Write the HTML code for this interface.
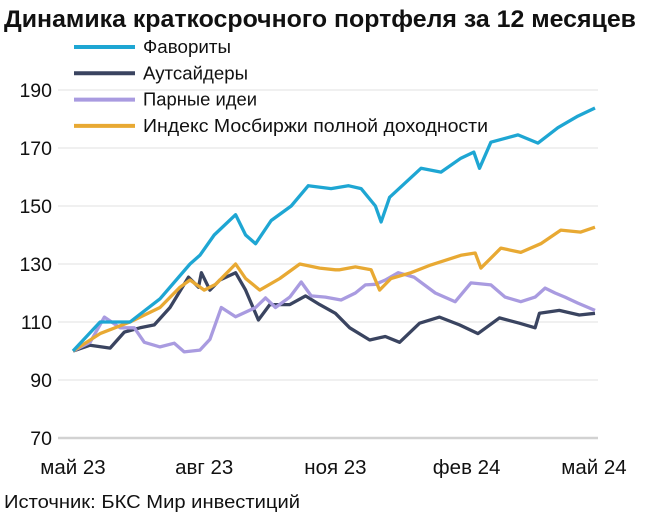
<!DOCTYPE html>
<html><head><meta charset="utf-8">
<style>
html,body{margin:0;padding:0;background:#fff;}
body{width:648px;height:522px;overflow:hidden;font-family:"Liberation Sans",sans-serif;}
svg text{font-family:"Liberation Sans",sans-serif;}
</style></head>
<body>
<svg id="chart" width="648" height="522" viewBox="0 0 648 522" xmlns="http://www.w3.org/2000/svg">
<text x="4" y="27" font-size="24.5" font-weight="bold" fill="#111" textLength="632" lengthAdjust="spacingAndGlyphs">Динамика краткосрочного портфеля за 12 месяцев</text>
<g id="grid"></g>
<g id="series"></g>
<g id="legend"></g>
<text x="4" y="508" font-size="18" fill="#111" textLength="296" lengthAdjust="spacingAndGlyphs">Источник: БКС Мир инвестиций</text>
</svg>
<script>
const yTicks = [70, 90, 110, 130, 150, 170, 190];
const xTickLabels = ["май 23", "авг 23", "ноя 23", "фев 24", "май 24"];
const xTickDays = [0, 92, 184, 276, 366];
const seriesNames = ["Фавориты", "Аутсайдеры", "Парные идеи", "Индекс Мосбиржи полной доходности"];

const favDays = [0,19,40,61,82,89,99,114,121,128,139,153,165,181,193,202,212,216,222,244,258,272,281,285,293,312,326,340,354,366];
const favVals = [100,110,110,118,130,133,140,147,140,137,145,150,157,156,157,156,150,144.5,153,163,161.7,166.5,168.6,163,172,174.5,171.7,177,181,183.8];

const outDays = [0,12,26,36,47,57,68,81,88,90,96,103,114,121,130,138,152,163,173,184,194,208,219,229,243,257,271,284,299,313,324,327,341,355,366];
const outVals = [100,102,101,106.5,108,109,115,125.5,122,127,121,124.5,127,121,110.7,116,116,119,116,113,108,103.8,105,103,109.6,111.7,109,106,111.4,109.6,108,113,114,112.4,113];

const pairDays = [0,12,22,33,43,50,61,71,78,89,96,104,114,128,135,142,152,160,167,177,188,198,205,212,219,228,239,254,268,279,293,303,314,324,331,338,345,354,366];
const pairVals = [100,103,111.7,108,108,103,101.4,102.7,99.7,100.3,104,115,111.8,115,118.3,115,118.6,123.8,119,118.6,117.6,120,122.8,123,124.5,127,125.5,120,117,123.5,122.8,118.6,117,118.6,121.7,120,118.6,116.5,114];

const idxDays = [0,19,40,61,75,82,92,100,114,121,131,145,159,173,184,187,198,209,215,223,237,251,272,282,286,300,314,328,342,356,366];
const idxVals = [100,106,110,115,122,124.5,121,123,130,125,121,125,130,128.6,128,128,129,128,121,125,127,129.7,133,133.8,128.6,135.5,134,137,141.7,141,142.7];

const colors = ["#1ea6d3", "#3a4460", "#a99be0", "#e8a933"];
const X0 = 73, X1 = 595, GX0 = 58, GX1 = 598;
function xScale(d){ return X0 + d/366*(X1-X0); }
function yScale(v){ return 438 - (v-70)*2.9; }
const NS = "http://www.w3.org/2000/svg";
const grid = document.getElementById('grid');
yTicks.forEach(function(t){
  const l = document.createElementNS(NS,'line');
  
  
  l.setAttribute('x1',GX0); l.setAttribute('x2',GX1);
  l.setAttribute('y1',yScale(t)); l.setAttribute('y2',yScale(t));
  l.setAttribute('stroke', t===70 ? '#d2d2d2' : '#ececec');
  l.setAttribute('stroke-width', t===70 ? 2.5 : 1.5);
  grid.appendChild(l);
  const tx = document.createElementNS(NS,'text');
  
  
  tx.setAttribute('x',52); tx.setAttribute('y',yScale(t)+7);
  tx.setAttribute('text-anchor','end'); tx.setAttribute('font-size','19.5'); tx.setAttribute('fill','#111');
  tx.textContent = t;
  grid.appendChild(tx);
});
xTickLabels.forEach(function(lab,i){
  const tx = document.createElementNS(NS,'text');
  
  
  let x = xScale(xTickDays[i]);
  if(i===0) x = 73; if(i===4) x = 594;
  tx.setAttribute('x', x);
  tx.setAttribute('y',474);
  tx.setAttribute('text-anchor','middle');
  tx.setAttribute('font-size','20.5'); tx.setAttribute('fill','#111');
  tx.textContent = lab;
  grid.appendChild(tx);
});
const sg = document.getElementById('series');
const all = [[outDays,outVals],[pairDays,pairVals],[idxDays,idxVals],[favDays,favVals]];
const order = [1,2,3,0];
const names = ['line-outsiders','line-pair-ideas','line-index','line-favorites'];
all.forEach(function(s,k){
  const pts = [];
  const idx = s[0].map(function(d,i){return i;}).sort(function(a,b){return s[0][a]-s[0][b];});
  idx.forEach(function(i){ pts.push(xScale(s[0][i]).toFixed(1)+','+yScale(s[1][i]).toFixed(1)); });
  const p = document.createElementNS(NS,'polyline');
  
  
  p.setAttribute('points', pts.join(' '));
  p.setAttribute('fill','none');
  p.setAttribute('stroke', colors[order[k]]);
  p.setAttribute('stroke-width','3.3');
  p.setAttribute('stroke-linejoin','round');
  sg.appendChild(p);
});
const lg = document.getElementById('legend');
const legendW = [88, 105, 114, 345];
seriesNames.forEach(function(n,i){
  const y = 47 + i*26.3;
  const l = document.createElementNS(NS,'line');
  
  
  l.setAttribute('x1',74); l.setAttribute('x2',135);
  l.setAttribute('y1',y); l.setAttribute('y2',y);
  l.setAttribute('stroke',colors[i]); l.setAttribute('stroke-width','4');
  lg.appendChild(l);
  const t = document.createElementNS(NS,'text');
  
  
  t.setAttribute('x',143); t.setAttribute('y',y+6);
  t.setAttribute('font-size','18'); t.setAttribute('fill','#111');
  t.setAttribute('textLength', legendW[i]);
  t.setAttribute('lengthAdjust','spacingAndGlyphs');
  t.textContent = n;
  lg.appendChild(t);
});
</script>
</body></html>
